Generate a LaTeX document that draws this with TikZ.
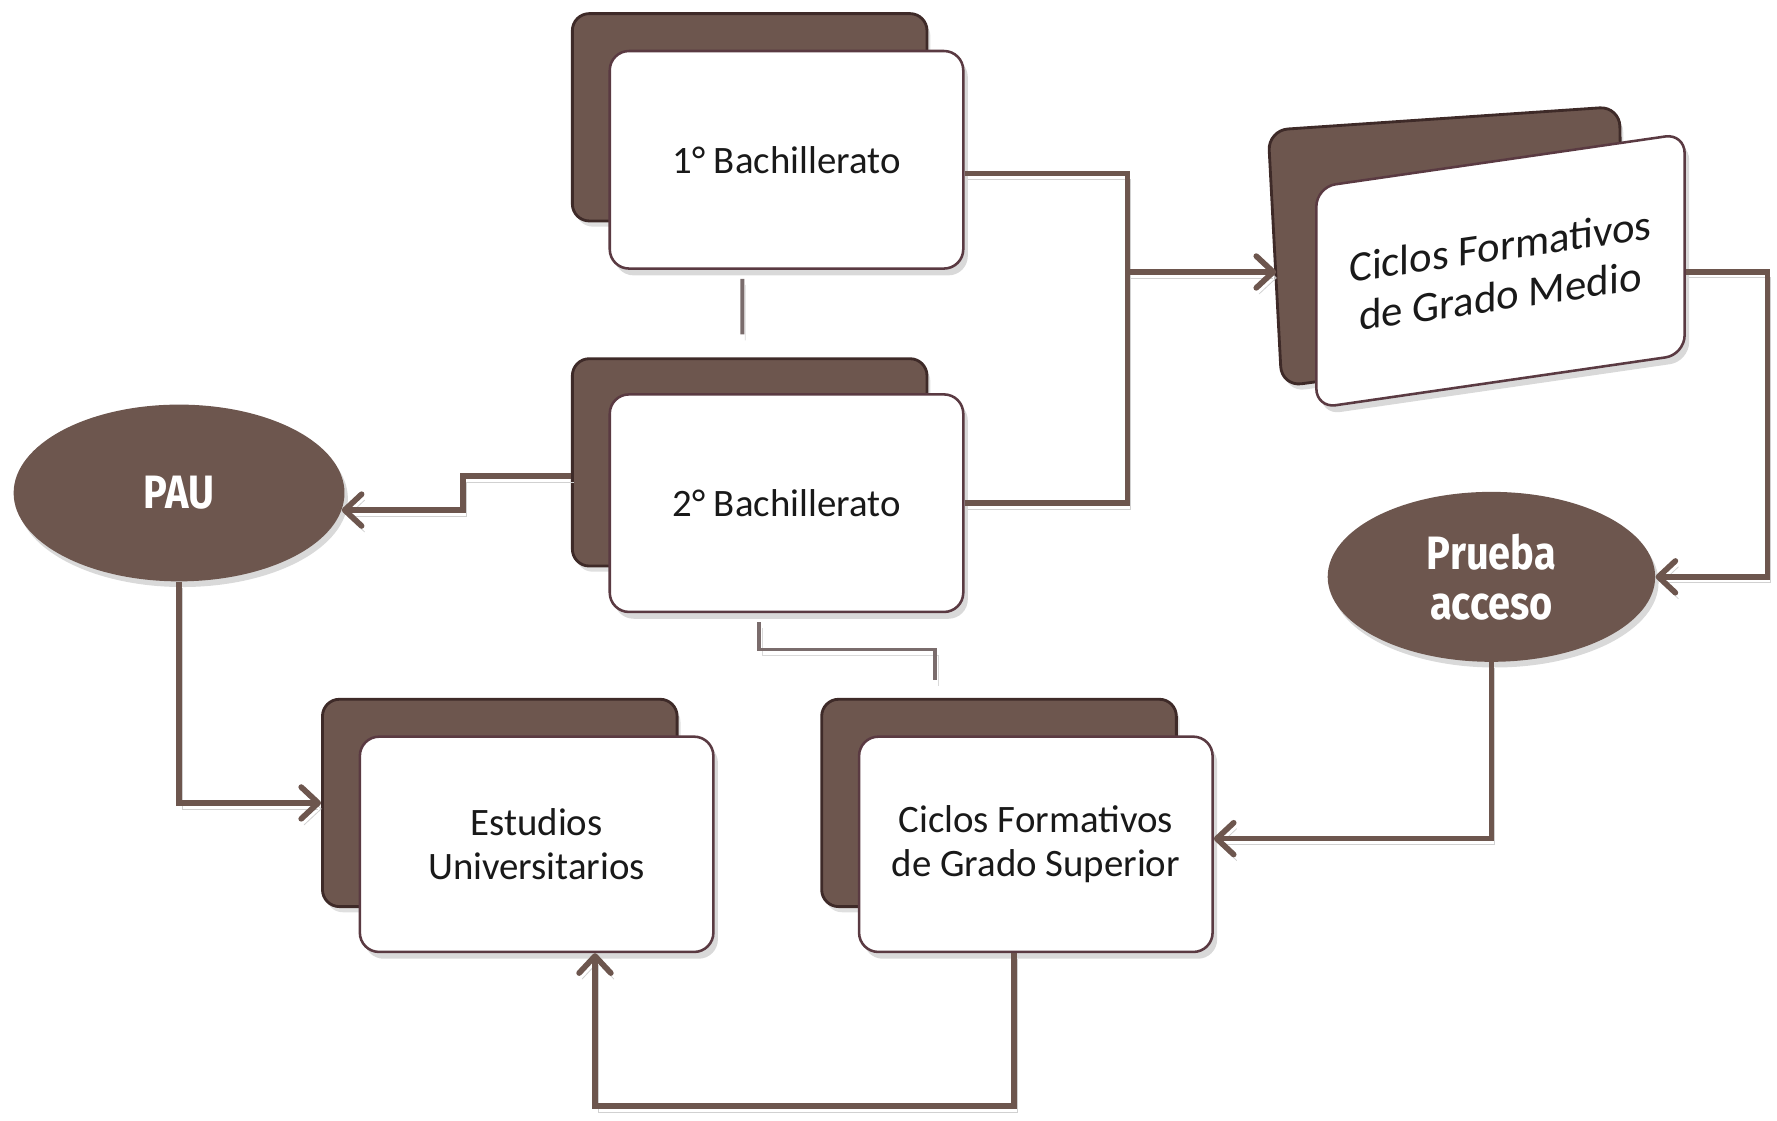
\documentclass[tikz,border=0pt]{standalone}
\usepackage{fontspec}
\setmainfont{Carlito}
\newfontfamily\ellfont[FakeStretch=0.85]{Fira Sans}
\usetikzlibrary{arrows.meta,shapes.geometric,shadows}
\definecolor{brn}{HTML}{6D564E}
\definecolor{brndk}{HTML}{3E2A28}
\definecolor{edgec}{HTML}{5A3A42}
\definecolor{stubc}{HTML}{7A6C6C}
\tikzset{
  backbox/.style={draw=brndk, line width=0.05cm, fill=brn, rounded corners=0.3cm,
    minimum width=6.26cm, minimum height=3.66cm, inner sep=0pt,
    drop shadow={opacity=0.25, shadow xshift=0.06cm, shadow yshift=-0.1cm}},
  frontbox/.style={draw=edgec, line width=0.045cm, fill=white, rounded corners=0.34cm,
    minimum width=6.24cm, minimum height=3.84cm, align=center, inner sep=0pt,
    font=\fontsize{19.5}{22}\selectfont, text=black!90,
    drop shadow={opacity=0.3, shadow xshift=0.08cm, shadow yshift=-0.12cm}},
  oval/.style={ellipse, fill=brn, draw=none, inner sep=0pt, text=white, align=center,
    font=\ellfont\bfseries\fontsize{23.5}{25}\selectfont,
    drop shadow={opacity=0.3, shadow xshift=0.06cm, shadow yshift=-0.1cm}},
  conn/.style={draw=brn, line width=0.1cm,
    preaction={draw=black!18, transform canvas={xshift=1.5pt, yshift=-3pt}}},
  arr/.style={-{Straight Barb[round, length=0.3cm, width=0.56cm]}},
  stubline/.style={draw=stubc, line width=0.07cm,
    preaction={draw=black!15, transform canvas={xshift=1.5pt, yshift=-3pt}}}
}
\begin{document}
\begin{tikzpicture}[x=0.02cm, y=-0.02cm]
\useasboundingbox (0,0) rectangle (1568,989);

% back boxes
\node[backbox] (b1back) at (661.5,103.5) {};
\node[backbox] (b2back) at (661.5,408) {};
\node[backbox] (euback) at (441,708.5) {};
\node[backbox] (csback) at (881.5,708.5) {};

% CFGM back (perspective)
\path[fill=brn, draw=brndk, line width=0.05cm, rounded corners=0.35cm,
  drop shadow={opacity=0.25, shadow xshift=0.06cm, shadow yshift=-0.1cm}]
  (1119,115) -- (1429,94) -- (1433,300) -- (1131,341) -- cycle;
\coordinate (cmin) at (1126,240);

% front boxes
\node[frontbox] (b1) at (694,141) {1° Bachillerato};
\node[frontbox] (b2) at (694,444) {2° Bachillerato};
\node[frontbox, minimum height=3.8cm] (eu) at (473.5,745) {Estudios\\Universitarios};
\node[frontbox, minimum height=3.8cm] (cs) at (914,745) {Ciclos Formativos\\de Grado Superior};

\begin{scope}[shift={(1324,239)}, yslant=0.145, transform shape]
  \node[frontbox, minimum width=6.5cm, minimum height=3.9cm,
    font=\fontsize{21.5}{25}\selectfont] (cm) at (0,0) {Ciclos Formativos\\de Grado Medio};
\end{scope}

% ellipses
\node[oval, minimum width=5.84cm, minimum height=3.12cm] (pau) at (158,435) {PAU};
\node[oval, minimum width=5.78cm, minimum height=3.0cm] (pa) at (1316,509) {Prueba\\acceso};

% junction and free ends
\coordinate (j) at (995,240);
\coordinate (s1e) at (655,295);
\coordinate (s2e) at (825,600);

% connectors
\draw[conn, arr] ([yshift=-0.24cm]b1.east) -| (j) -- (cmin);
\draw[conn] (b2.east) -| (j);
\draw[conn, arr] ([yshift=-0.24cm]b2back.west) -- ++(-95,0) |- (pau.-6);
\draw[conn, arr] (pau.south) |- (euback.west);
\draw[conn, arr] ([yshift=-0.49cm]cm.east) -- ++(72,0) |- (pa.east);
\draw[conn, arr] (pa.south) |- ([yshift=0.1cm]cs.east);
\draw[conn, arr] ([xshift=-0.38cm]cs.south) -- ++(0,135) -| ([xshift=1.03cm]eu.south);

% stubs
\draw[stubline] ([xshift=-0.78cm, yshift=-0.16cm]b1.south) -- (s1e);
\draw[stubline] ([xshift=-0.48cm, yshift=-0.16cm]b2.south) -- ++(0,24) -| (s2e);
\end{tikzpicture}
\end{document}
